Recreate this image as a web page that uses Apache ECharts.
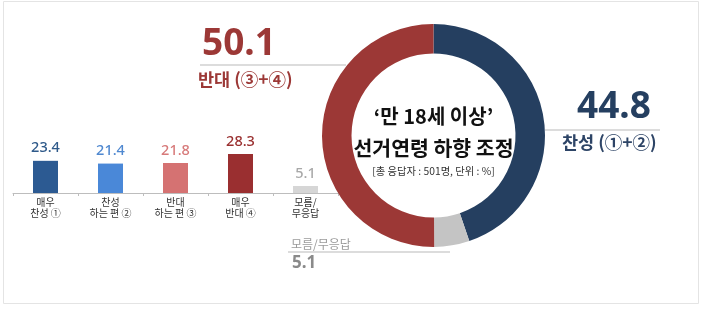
<!DOCTYPE html>
<html><head><meta charset="utf-8">
<script src="https://cdn.jsdelivr.net/npm/echarts@6/dist/echarts.min.js"></script>
<style>html,body{margin:0;padding:0;background:#fff}#c{width:703px;height:309px}</style>
</head><body><div id="c"></div>
<script>
const categories = ['매우\n찬성 ①', '찬성\n하는 편 ②', '반대\n하는 편 ③', '매우\n반대 ④', '모름/\n무응답'];
const barValues = [23.4, 21.4, 21.8, 28.3, 5.1];
const donutNames = ['찬성 (①+②)', '모름/무응답', '반대 (③+④)'];
const donutValues = [44.8, 5.1, 50.1];
const centerTitle1 = '‘만 18세 이상’';
const centerTitle2 = '선거연령 하향 조정';
const centerNote = '[총 응답자 : 501명, 단위 : %]';

const barColors = ['#2c5a92', '#4a88d8', '#d57272', '#9a2f30', '#d6d6d6'];
const labelColors = ['#2f5a8a', '#4f88d0', '#d77a7a', '#9a3030', '#a8a8a8'];
const donutColors = ['#253f60', '#c4c4c4', '#9c3836'];
const KR = '"Noto Sans CJK KR", "Noto Sans", sans-serif';

const chart = echarts.init(document.getElementById('c'), null, {renderer: 'canvas'});
chart.setOption({
  animation: false,
  backgroundColor: '#fff',
  grid: {left: 13, width: 325, top: 151.75, height: 41.25},
  xAxis: {
    type: 'category', data: categories,
    axisLine: {lineStyle: {color: '#bdbdbd', width: 1}},
    axisTick: {show: true, length: 3, lineStyle: {color: '#bdbdbd'}},
    axisLabel: {color: '#333', fontSize: 10, lineHeight: 11, margin: 4, fontFamily: KR, interval: 0}
  },
  yAxis: {type: 'value', min: 0, max: 30, show: false, splitLine: {show: false}},
  series: [
    {
      type: 'bar', barWidth: 25,
      data: barValues.map((v, i) => ({
        value: v,
        itemStyle: {color: barColors[i]},
        label: {color: labelColors[i]}
      })),
      label: {show: true, position: 'top', distance: 5, fontSize: 14.5, fontWeight: 500, fontFamily: '"Noto Sans", sans-serif'}
    },
    {
      type: 'pie', center: [433.5, 135.5], radius: [82, 111.5],
      startAngle: 90, clockwise: true, label: {show: false}, labelLine: {show: false},
      silent: true,
      data: donutValues.map((v, i) => ({name: donutNames[i], value: v, itemStyle: {color: donutColors[i]}}))
    }
  ],
  graphic: [
    {type: 'rect', shape: {x: 3.5, y: 1.5, width: 695, height: 302}, style: {fill: 'none', stroke: '#e4e4e4', lineWidth: 1}, z: -10},
    {type: 'line', shape: {x1: 200, y1: 65, x2: 346, y2: 65}, style: {stroke: '#d0d0d0', lineWidth: 1.5}, z: -1},
    {type: 'line', shape: {x1: 545, y1: 130, x2: 660, y2: 130}, style: {stroke: '#d0d0d0', lineWidth: 1.5}, z: -1},
    {type: 'line', shape: {x1: 288, y1: 252, x2: 450, y2: 252}, style: {stroke: '#d0d0d0', lineWidth: 1.5}, z: -1},
    {type: 'text', left: 202, top: 26, style: {text: donutValues[2].toFixed(1), fontSize: 37, fontWeight: 'bold', fill: '#9c3836', fontFamily: '"Noto Sans", sans-serif'}},
    {type: 'text', left: 198, top: 71, style: {text: donutNames[2], fontSize: 17.5, fontWeight: 'bold', fill: '#9c3836', fontFamily: KR}},
    {type: 'text', left: 577, top: 89, style: {text: donutValues[0].toFixed(1), fontSize: 37, fontWeight: 'bold', fill: '#253f60', fontFamily: '"Noto Sans", sans-serif'}},
    {type: 'text', left: 562, top: 134, style: {text: donutNames[0], fontSize: 17.5, fontWeight: 'bold', fill: '#2d4466', fontFamily: KR}},
    {type: 'text', left: 291, top: 238, style: {text: donutNames[1], fontSize: 12, fill: '#9a9a9a', fontFamily: KR}},
    {type: 'text', left: 292, top: 255, style: {text: donutValues[1].toFixed(1), fontSize: 17, fontWeight: 'bold', fill: '#8a8a8a', fontFamily: '"Noto Sans", sans-serif'}},
    {type: 'text', x: 433.5, y: 116, style: {text: centerTitle1, fontSize: 20, fontWeight: 'bold', fill: '#111', fontFamily: KR, align: 'center', verticalAlign: 'middle'}},
    {type: 'text', x: 433.5, y: 148, style: {text: centerTitle2, fontSize: 20.5, fontWeight: 'bold', fill: '#111', fontFamily: KR, align: 'center', verticalAlign: 'middle'}},
    {type: 'text', x: 433.5, y: 171, style: {text: centerNote, fontSize: 10.3, fill: '#333', fontFamily: KR, align: 'center', verticalAlign: 'middle'}}
  ]
});
</script></body></html>
